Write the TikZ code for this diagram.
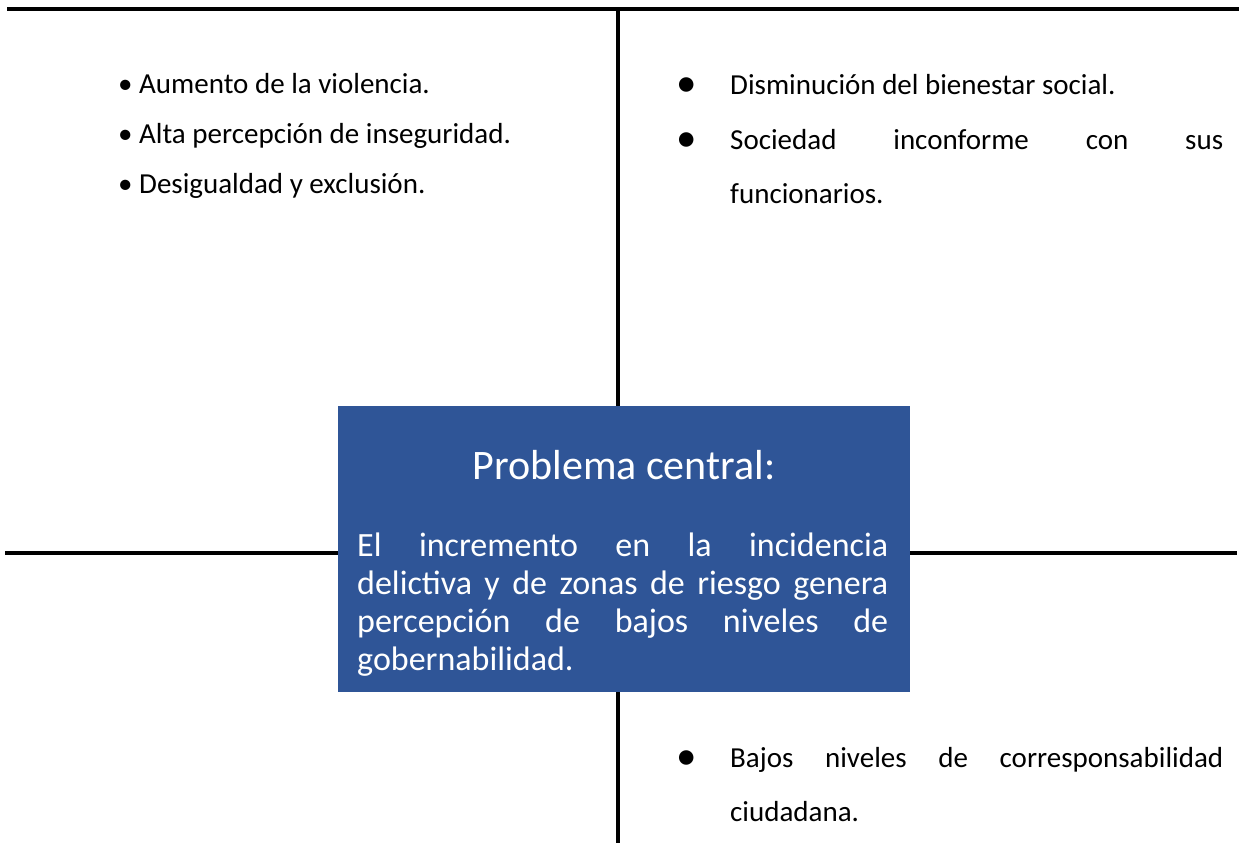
\documentclass[tikz,border=0pt]{standalone}
\usepackage{fontspec}
\setmainfont{Carlito}
\usepackage{tikz}
\definecolor{probblue}{RGB}{47,85,151}

\begin{document}
\begin{tikzpicture}[x=1pt,y=-1pt,
		heavyline/.style={line width=4pt},
		itemfont/.style={font=\fontsize{29}{54}\selectfont},
		leftitem/.style={itemfont,inner sep=0pt,anchor=base west,font=\fontsize{29}{50}\selectfont},
		rightitem/.style={itemfont,inner sep=0pt,anchor=base west,text width=493pt,align=justify},
		bigbullet/.style={font=\fontsize{41}{41}\selectfont,inner sep=0pt},
		problembox/.style={fill=probblue,inner sep=0pt,minimum width=572pt,minimum height=286pt,anchor=north west}]
				\useasboundingbox (0,0) rectangle (1239,843);
				
				\node [problembox] (prob) at (338,406) {};
				\node [text=white,font=\fontsize{42}{50}\selectfont,anchor=base,inner sep=0pt] (title) at (624,479) {Problema central:};
				\node [text=white,font=\fontsize{34}{38}\selectfont,anchor=base west,inner sep=0pt,text width=531pt,align=justify] (desc) at (357,556) {El incremento en la incidencia\linebreak delictiva y de zonas de riesgo genera\linebreak percepción de bajos niveles de\linebreak gobernabilidad.};
				
				\foreach \txt [count=\i] in {Aumento de la violencia., Alta percepción de inseguridad., Desigualdad y exclusión.}
				\node [leftitem] (cause\i) at (118,43+50*\i) {• \txt};
				
				\node [rightitem] (eff1) at (730,94) {Disminución del bienestar social.};
				\node [rightitem] (eff2) at (730,149) {Sociedad inconforme con sus\linebreak funcionarios.};
				\node [rightitem] (eff3) at (730,767) {Bajos niveles de corresponsabilidad\linebreak ciudadana.};
				\foreach \n/\y in {eff1/87, eff2/142, eff3/760}
				\node [bigbullet] (\n dot) at (687,\y) {•};
				
				\coordinate (topl) at (7,9);
				\coordinate (topr) at (1239,9);
				\coordinate (vtop) at (618,9);
				\coordinate (vbot) at (618,843);
				\coordinate (midl) at (5,553);
				\coordinate (midr) at (1237,553);
				\draw [heavyline] (topl) -- (topr);
				\draw [heavyline] (vtop) -- (vtop |- prob.north);
				\draw [heavyline] (vbot |- prob.south) -- (vbot);
				\draw [heavyline] (midl) -- (midl -| prob.west) (prob.east |- midr) -- (midr);
				
			\end{tikzpicture}
\end{document}
